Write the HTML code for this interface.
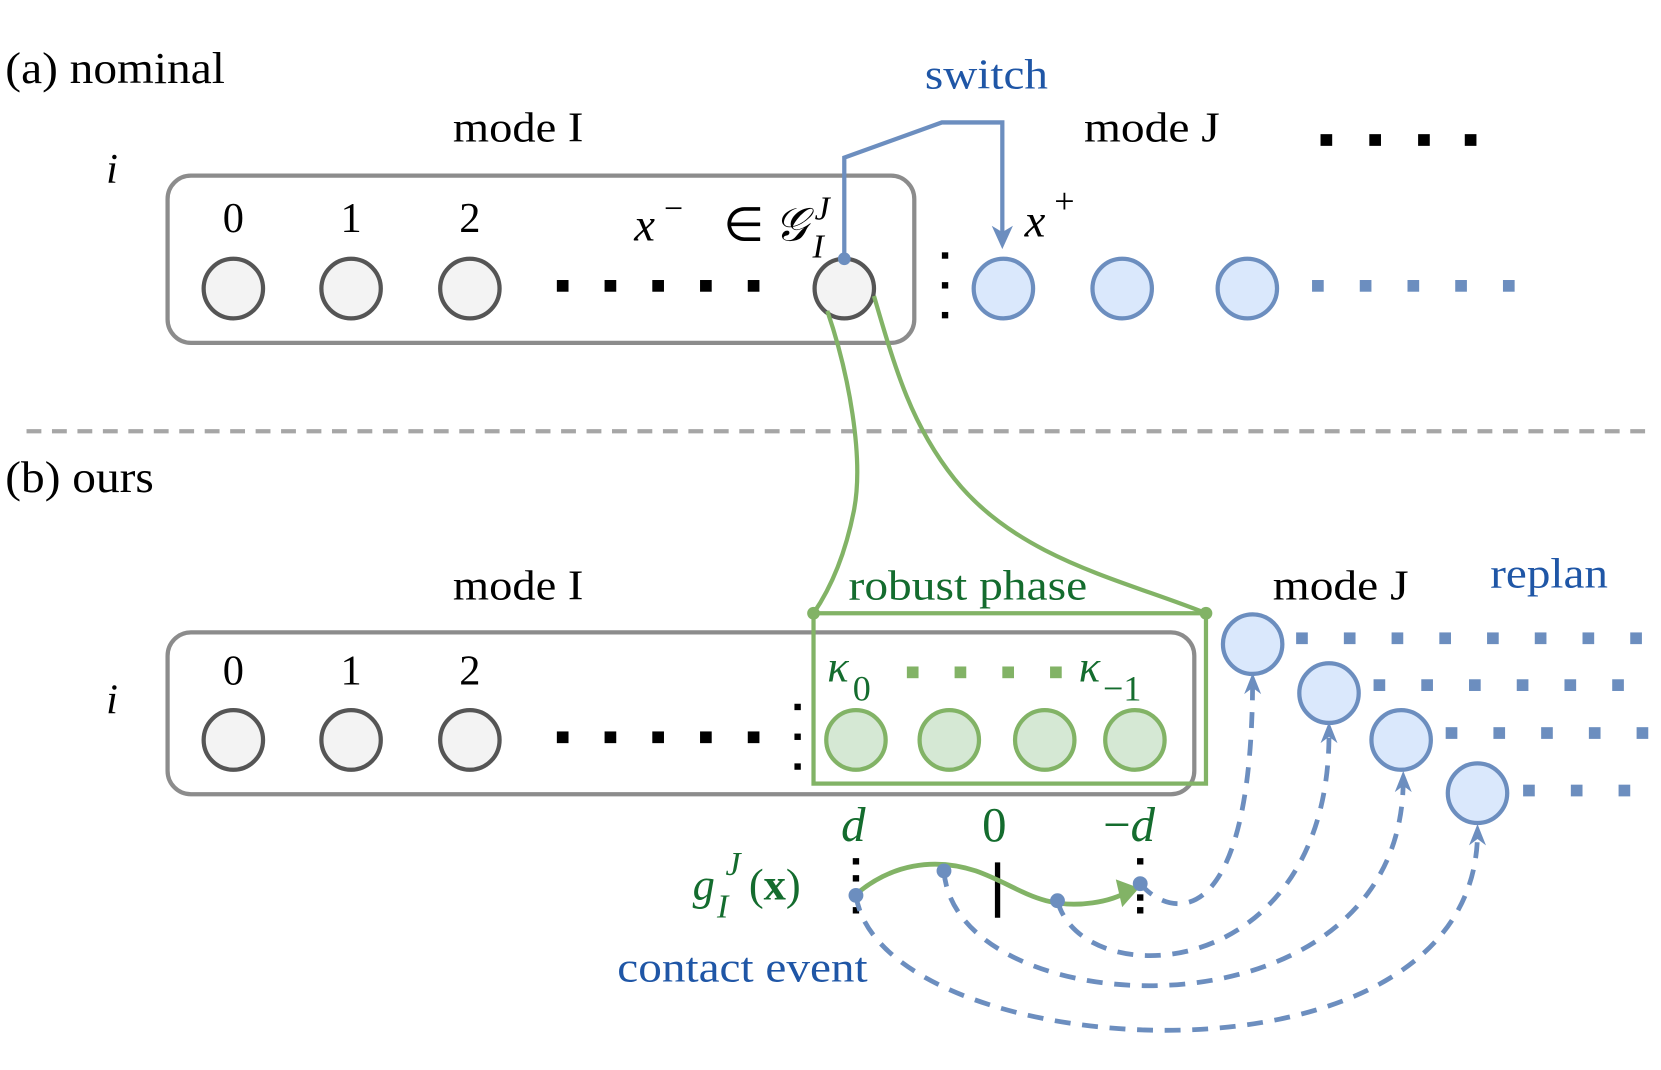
<!DOCTYPE html>
<html><head><meta charset="utf-8"><style>
html,body{margin:0;padding:0;background:#fff;}
svg{display:block}
text{font-family:"Liberation Serif",serif;}
</style></head><body>
<svg width="1661" height="1070" viewBox="0 0 1566 1005" preserveAspectRatio="none" xmlns="http://www.w3.org/2000/svg">
<!-- (a) -->
<text x="5" y="78" font-size="42" textLength="207" lengthAdjust="spacingAndGlyphs">(a) nominal</text>
<text x="872" y="83" font-size="40" fill="#1f56a6" textLength="116" lengthAdjust="spacingAndGlyphs">switch</text>
<text x="427" y="133" font-size="40" textLength="123" lengthAdjust="spacingAndGlyphs">mode I</text>
<text x="1022" y="133" font-size="40" textLength="128" lengthAdjust="spacingAndGlyphs">mode J</text>
<g fill="#000"><rect x="1245" y="126" width="11" height="11"/><rect x="1291" y="126" width="11" height="11"/><rect x="1337" y="126" width="11" height="11"/><rect x="1381" y="126" width="11" height="11"/></g>
<text x="100" y="172" font-size="40" font-style="italic">i</text>
<rect x="158" y="165" width="704" height="157" rx="22" fill="none" stroke="#8c8c8c" stroke-width="4"/>
<g font-size="40" text-anchor="middle"><text x="220" y="218">0</text><text x="331" y="218">1</text><text x="443" y="218">2</text></g>
<g fill="#f3f3f3" stroke="#555" stroke-width="4"><circle cx="220" cy="271" r="28"/><circle cx="331" cy="271" r="28"/><circle cx="443" cy="271" r="28"/><circle cx="796" cy="271" r="28"/></g>
<g fill="#000"><rect x="525" y="263" width="11" height="11"/><rect x="570" y="263" width="11" height="11"/><rect x="615" y="263" width="11" height="11"/><rect x="660" y="263" width="11" height="11"/><rect x="705" y="263" width="11" height="11"/>
<rect x="888" y="237" width="6" height="6"/><rect x="888" y="265" width="6" height="6"/><rect x="888" y="293" width="6" height="6"/></g>
<text x="598" y="226" font-size="44" font-style="italic">x</text><text x="626" y="206" font-size="32">−</text><text x="682" y="226" font-size="44">∈</text><text x="730" y="226" font-size="44" font-style="italic">𝒢</text><text x="768" y="206" font-size="32" font-style="italic">J</text><text x="766" y="242" font-size="32" font-style="italic">I</text>
<polyline points="796,243 796,148 888,115 945,115 945,222" fill="none" stroke="#6c8ebf" stroke-width="4"/>
<path d="M935,212 L945,234 L955,212 L945,218 Z" fill="#6c8ebf"/>
<circle cx="796" cy="243" r="6" fill="#6c8ebf"/>
<text x="966" y="222" font-size="44" font-style="italic">x</text><text x="994" y="200" font-size="34">+</text>
<g fill="#dae8fc" stroke="#6c8ebf" stroke-width="4"><circle cx="946" cy="271" r="28"/><circle cx="1058" cy="271" r="28"/><circle cx="1176" cy="271" r="28"/></g>
<g fill="#6c8ebf"><rect x="1237" y="263" width="11" height="11"/><rect x="1282" y="263" width="11" height="11"/><rect x="1327" y="263" width="11" height="11"/><rect x="1372" y="263" width="11" height="11"/><rect x="1417" y="263" width="11" height="11"/></g>
<line x1="25" y1="405" x2="1552" y2="405" stroke="#a6a6a6" stroke-width="4" stroke-dasharray="14,10"/>
<!-- (b) -->
<text x="5" y="462" font-size="42" textLength="140" lengthAdjust="spacingAndGlyphs">(b) ours</text>
<path d="M780,292 C800,350 815,430 805,480 C795,530 778,560 767,576" fill="none" stroke="#82b366" stroke-width="4"/>
<path d="M824,278 C845,350 860,400 900,450 C960,525 1060,545 1137,576" fill="none" stroke="#82b366" stroke-width="4"/>
<text x="427" y="563" font-size="40" textLength="123" lengthAdjust="spacingAndGlyphs">mode I</text>
<text x="800" y="563" font-size="40" fill="#146c2e" textLength="225" lengthAdjust="spacingAndGlyphs">robust phase</text>
<text x="1200" y="563" font-size="40" textLength="128" lengthAdjust="spacingAndGlyphs">mode J</text>
<text x="1405" y="552" font-size="40" fill="#1f56a6" textLength="111" lengthAdjust="spacingAndGlyphs">replan</text>
<text x="100" y="670" font-size="40" font-style="italic">i</text>
<rect x="158" y="594" width="968" height="152" rx="22" fill="none" stroke="#8c8c8c" stroke-width="4"/>
<rect x="767" y="576" width="370" height="160" fill="none" stroke="#82b366" stroke-width="4"/>
<circle cx="767" cy="576" r="6" fill="#82b366"/><circle cx="1137" cy="576" r="6" fill="#82b366"/>
<g font-size="40" text-anchor="middle"><text x="220" y="643">0</text><text x="331" y="643">1</text><text x="443" y="643">2</text></g>
<g fill="#f3f3f3" stroke="#555" stroke-width="4"><circle cx="220" cy="695" r="28"/><circle cx="331" cy="695" r="28"/><circle cx="443" cy="695" r="28"/></g>
<g fill="#000"><rect x="525" y="687" width="11" height="11"/><rect x="570" y="687" width="11" height="11"/><rect x="615" y="687" width="11" height="11"/><rect x="660" y="687" width="11" height="11"/><rect x="705" y="687" width="11" height="11"/>
<rect x="749" y="661" width="6" height="6"/><rect x="749" y="689" width="6" height="6"/><rect x="749" y="717" width="6" height="6"/></g>
<text x="780" y="640" font-size="42" font-style="italic" fill="#146c2e">κ</text><text x="804" y="658" font-size="34" fill="#146c2e">0</text>
<g fill="#82b366"><rect x="855" y="626" width="11" height="11"/><rect x="900" y="626" width="11" height="11"/><rect x="945" y="626" width="11" height="11"/><rect x="990" y="626" width="11" height="11"/></g>
<text x="1017" y="640" font-size="42" font-style="italic" fill="#146c2e">κ</text><text x="1040" y="658" font-size="34" fill="#146c2e">−1</text>
<g fill="#d5e8d4" stroke="#82b366" stroke-width="4"><circle cx="807" cy="695" r="28"/><circle cx="895" cy="695" r="28"/><circle cx="985" cy="695" r="28"/><circle cx="1070" cy="695" r="28"/></g>
<g fill="#dae8fc" stroke="#6c8ebf" stroke-width="4"><circle cx="1181" cy="605" r="28"/><circle cx="1253" cy="651" r="28"/><circle cx="1321" cy="695" r="28"/><circle cx="1393" cy="745" r="28"/></g>
<g fill="#6c8ebf">
<rect x="1222" y="594" width="11" height="11"/><rect x="1267" y="594" width="11" height="11"/><rect x="1312" y="594" width="11" height="11"/><rect x="1357" y="594" width="11" height="11"/><rect x="1402" y="594" width="11" height="11"/><rect x="1447" y="594" width="11" height="11"/><rect x="1492" y="594" width="11" height="11"/><rect x="1537" y="594" width="11" height="11"/>
<rect x="1295" y="638" width="11" height="11"/><rect x="1340" y="638" width="11" height="11"/><rect x="1385" y="638" width="11" height="11"/><rect x="1430" y="638" width="11" height="11"/><rect x="1475" y="638" width="11" height="11"/><rect x="1520" y="638" width="11" height="11"/>
<rect x="1363" y="683" width="11" height="11"/><rect x="1408" y="683" width="11" height="11"/><rect x="1453" y="683" width="11" height="11"/><rect x="1498" y="683" width="11" height="11"/><rect x="1543" y="683" width="11" height="11"/>
<rect x="1436" y="737" width="11" height="11"/><rect x="1481" y="737" width="11" height="11"/><rect x="1526" y="737" width="11" height="11"/>
</g>
<g font-size="46" fill="#146c2e"><text x="793" y="790" font-style="italic">d</text><text x="926" y="790">0</text><text x="1040" y="790">−<tspan font-style="italic">d</tspan></text></g>
<text x="653" y="845" font-size="42" font-style="italic" fill="#146c2e">g</text><text x="684" y="822" font-size="32" font-style="italic" fill="#146c2e">J</text><text x="676" y="862" font-size="32" font-style="italic" fill="#146c2e">I</text><text x="706" y="845" font-size="42" fill="#146c2e">(<tspan font-weight="bold">x</tspan>)</text>
<text x="582" y="922" font-size="40" fill="#1f56a6" textLength="236" lengthAdjust="spacingAndGlyphs">contact event</text>
<g fill="#000"><rect x="804" y="806" width="6" height="6"/><rect x="804" y="822" width="6" height="6"/><rect x="804" y="852" width="6" height="6"/>
<rect x="1072" y="806" width="6" height="6"/><rect x="1072" y="840" width="6" height="6"/><rect x="1072" y="852" width="6" height="6"/></g>
<rect x="938" y="810" width="5" height="52" fill="#000"/>
<g fill="none" stroke="#6c8ebf" stroke-width="4.5" stroke-dasharray="15,11">
<path d="M1075,830 C1105,865 1180,875 1181,640"/>
<path d="M997,846 C1020,935 1255,925 1253,686"/>
<path d="M890,818 C900,965 1325,985 1323,730"/>
<path d="M807,841 C830,1000 1395,1040 1393,780"/>
</g>
<g fill="#6c8ebf"><path d="M1173,652 L1181,632 L1189,652 L1181,646 Z"/><path d="M1245,698 L1253,678 L1261,698 L1253,692 Z"/><path d="M1315,744 L1323,724 L1331,744 L1323,738 Z"/><path d="M1385,794 L1393,774 L1401,794 L1393,788 Z"/></g>
<path d="M807,840 C840,812 880,805 920,818 C960,832 980,855 1030,848 C1045,846 1055,842 1065,837" fill="none" stroke="#82b366" stroke-width="4.5"/>
<path d="M1052,826 L1074,834 L1058,852 Z" fill="#82b366"/>
<g fill="#6c8ebf"><circle cx="807" cy="841" r="7"/><circle cx="890" cy="818" r="7"/><circle cx="997" cy="846" r="7"/><circle cx="1075" cy="830" r="7"/></g>
</svg>
</body></html>
